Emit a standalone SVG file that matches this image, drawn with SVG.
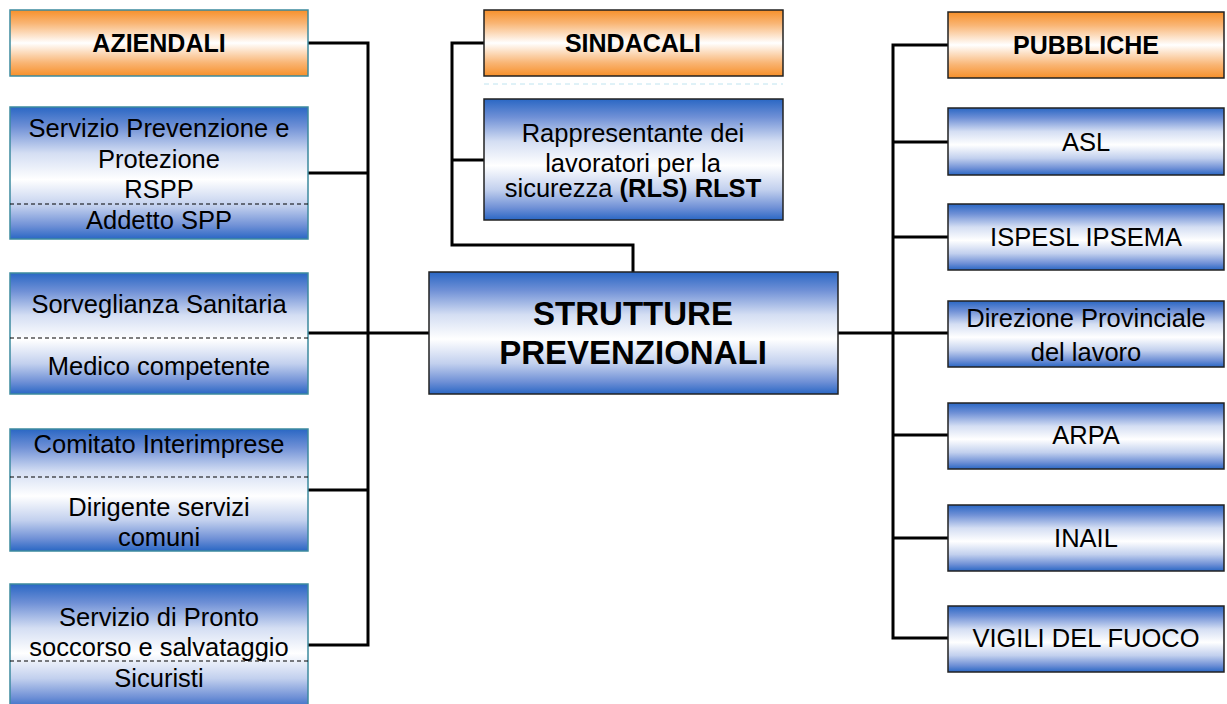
<svg xmlns="http://www.w3.org/2000/svg" width="1227" height="704" viewBox="0 0 1227 704">
<defs>
<linearGradient id="gb" x1="0" y1="0" x2="0" y2="1">
<stop offset="0" stop-color="#2a67c4"/>
<stop offset="0.15" stop-color="#6f90d6"/>
<stop offset="0.35" stop-color="#d4def3"/>
<stop offset="0.55" stop-color="#ffffff"/>
<stop offset="0.75" stop-color="#c2d0ee"/>
<stop offset="0.9" stop-color="#6f90d6"/>
<stop offset="1" stop-color="#2a67c4"/>
</linearGradient>
<linearGradient id="go" x1="0" y1="0" x2="0" y2="1">
<stop offset="0" stop-color="#f7902a"/>
<stop offset="0.2" stop-color="#f9b574"/>
<stop offset="0.5" stop-color="#ffffff"/>
<stop offset="0.8" stop-color="#f9b574"/>
<stop offset="1" stop-color="#f7902a"/>
</linearGradient>
</defs>
<style>
text{font-family:"Liberation Sans",Arial,sans-serif;font-size:25.5px;fill:#000;text-anchor:middle}
.b{font-weight:bold;font-size:25px}
.big{font-size:33px;font-weight:bold}
.lt{stroke:#3d8a9e;stroke-width:1.5}
.dk{stroke:#222;stroke-width:1.5}
.sep{stroke:#000;stroke-width:1;stroke-dasharray:4 3}
.c{fill:none;stroke:#000;stroke-width:3}
</style>
<rect width="1227" height="704" fill="#fff"/>
<g id="connectors">
<polyline class="c" points="308,43 368,43 368,645 308,645"/>
<line class="c" x1="308" y1="173" x2="368" y2="173"/>
<line class="c" x1="308" y1="333" x2="430" y2="333"/>
<line class="c" x1="308" y1="490" x2="368" y2="490"/>
<polyline class="c" points="484,43 452,43 452,245 633,245 633,272"/>
<line class="c" x1="452" y1="160" x2="484" y2="160"/>
<polyline class="c" points="948,45 893,45 893,638 948,638"/>
<line class="c" x1="838" y1="333" x2="948" y2="333"/>
<line class="c" x1="893" y1="142" x2="948" y2="142"/>
<line class="c" x1="893" y1="237" x2="948" y2="237"/>
<line class="c" x1="893" y1="435" x2="948" y2="435"/>
<line class="c" x1="893" y1="538" x2="948" y2="538"/>
</g>
<g id="aziendali">
<rect class="lt" x="10" y="10" width="298" height="66" fill="url(#go)"/>
<text class="b" x="159" y="52">AZIENDALI</text>
</g>
<g id="spp">
<rect class="lt" x="10" y="107" width="298" height="132" fill="url(#gb)"/>
<text x="159" y="137">Servizio Prevenzione e</text>
<text x="159" y="168">Protezione</text>
<text x="159" y="198">RSPP</text>
<line class="sep" x1="10" y1="204" x2="308" y2="204"/>
<text x="159" y="229">Addetto SPP</text>
</g>
<g id="sorveglianza">
<rect class="lt" x="10" y="273" width="298" height="121" fill="url(#gb)"/>
<text x="159" y="313">Sorveglianza Sanitaria</text>
<line class="sep" x1="10" y1="338" x2="308" y2="338"/>
<text x="159" y="375">Medico competente</text>
</g>
<g id="comitato">
<rect class="lt" x="10" y="429" width="298" height="122" fill="url(#gb)"/>
<text x="159" y="453">Comitato Interimprese</text>
<line class="sep" x1="10" y1="477" x2="308" y2="477"/>
<text x="159" y="516">Dirigente servizi</text>
<text x="159" y="546">comuni</text>
</g>
<g id="pronto">
<rect class="lt" x="10" y="584" width="298" height="126" fill="url(#gb)"/>
<text x="159" y="626">Servizio di Pronto</text>
<text x="159" y="656">soccorso e salvataggio</text>
<line class="sep" x1="10" y1="661" x2="308" y2="661"/>
<text x="159" y="687">Sicuristi</text>
</g>
<g id="sindacali">
<rect class="dk" x="484" y="10" width="299" height="66" fill="url(#go)"/>
<text class="b" x="633" y="52">SINDACALI</text>
</g>
<line x1="484" y1="84" x2="783" y2="84" stroke="#bfe4f0" stroke-width="1" stroke-dasharray="5 4"/>
<g id="rls">
<rect class="dk" x="484" y="99" width="299" height="121" fill="url(#gb)"/>
<text x="633" y="142">Rappresentante dei</text>
<text x="633" y="172">lavoratori per la</text>
<text x="633" y="197">sicurezza <tspan class="b" style="font-size:25.5px">(RLS) RLST</tspan></text>
</g>
<g id="strutture">
<rect class="dk" x="429" y="272" width="409" height="122" fill="url(#gb)"/>
<text class="big" x="633" y="325">STRUTTURE</text>
<text class="big" x="633" y="364">PREVENZIONALI</text>
</g>
<g id="pubbliche">
<rect class="dk" x="948" y="12" width="276" height="66" fill="url(#go)"/>
<text class="b" x="1086" y="54">PUBBLICHE</text>
</g>
<g id="asl">
<rect class="dk" x="948" y="108" width="276" height="67" fill="url(#gb)"/>
<text x="1086" y="151">ASL</text>
</g>
<g id="ispesl">
<rect class="dk" x="948" y="204" width="276" height="66" fill="url(#gb)"/>
<text x="1086" y="246">ISPESL IPSEMA</text>
</g>
<g id="direzione">
<rect class="dk" x="948" y="301" width="276" height="66" fill="url(#gb)"/>
<text x="1086" y="327">Direzione Provinciale</text>
<text x="1086" y="361">del lavoro</text>
</g>
<g id="arpa">
<rect class="dk" x="948" y="403" width="276" height="66" fill="url(#gb)"/>
<text x="1086" y="444">ARPA</text>
</g>
<g id="inail">
<rect class="dk" x="948" y="505" width="276" height="66" fill="url(#gb)"/>
<text x="1086" y="547">INAIL</text>
</g>
<g id="vigili">
<rect class="dk" x="948" y="606" width="276" height="66" fill="url(#gb)"/>
<text x="1086" y="647">VIGILI DEL FUOCO</text>
</g>
</svg>
